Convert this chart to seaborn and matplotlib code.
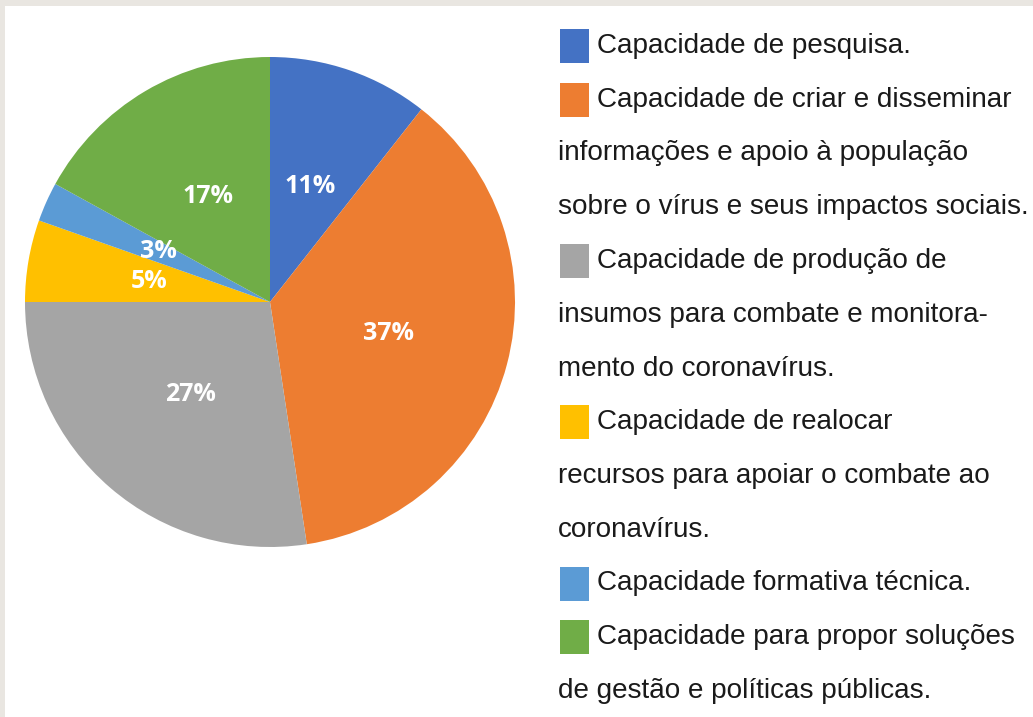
import matplotlib
matplotlib.use('Agg')
import matplotlib.pyplot as plt
from matplotlib.patches import Rectangle
import seaborn as sns

# slice shares (%), clockwise from 12 o'clock
shares = [10.6, 37.0, 27.4, 5.4, 2.6, 17.0]
colors = ['#4472c4', '#ed7d31', '#a5a5a5', '#ffc000', '#5b9bd5', '#70ad47']

# legend text, wrapped like in the reference
legend_lines = [
    ['Capacidade de pesquisa.'],
    ['Capacidade de criar e disseminar',
     'informações e apoio à população',
     'sobre o vírus e seus impactos sociais.'],
    ['Capacidade de produção de',
     'insumos para combate e monitora-',
     'mento do coronavírus.'],
    ['Capacidade de realocar',
     'recursos para apoiar o combate ao',
     'coronavírus.'],
    ['Capacidade formativa técnica.'],
    ['Capacidade para propor soluções',
     'de gestão e políticas públicas.'],
]

sns.set_theme(style='white')
plt.rcParams['font.family'] = ['Liberation Sans', 'DejaVu Sans']

W, H = 1033, 717
fig = plt.figure(figsize=(W / 100, H / 100), dpi=100, facecolor='#e9e6e1')

# white panel (thin gray frame on top and left only)
fig.patches.append(Rectangle((5 / W, 0), 1, 1 - 6 / H, transform=fig.transFigure,
                             facecolor='white', edgecolor='none', zorder=-10))

cx, cy, r = 270, 302, 245
ax = fig.add_axes([(cx - r) / W, (H - cy - r) / H, 2 * r / W, 2 * r / H])
ax.set_zorder(5)
ax.patch.set_alpha(0)
ax.pie(shares, colors=colors, startangle=90, counterclock=False,
       autopct=lambda p: f'{p:.0f}%', pctdistance=0.5,
       wedgeprops={'linewidth': 0},
       textprops={'color': 'white', 'fontsize': 18, 'fontweight': 'bold',
                  'family': 'Open Sans'})
ax.set_xlim(-1, 1)
ax.set_ylim(-1, 1)
ax.set_aspect('equal')
ax.axis('off')

# legend drawn by hand
y = 46
step = 53.75
for col, lines in zip(colors, legend_lines):
    fig.patches.append(Rectangle((560 / W, 1 - (y + 17) / H), 29 / W, 34 / H,
                                 transform=fig.transFigure, facecolor=col,
                                 edgecolor='none', zorder=1))
    for i, line in enumerate(lines):
        x = 597 if i == 0 else 558
        fig.text(x / W, 1 - y / H, line, fontsize=20.1, color='#1a1a1a',
                 va='center', ha='left')
        y += step

fig.savefig('out.png', dpi=100, facecolor=fig.get_facecolor())
